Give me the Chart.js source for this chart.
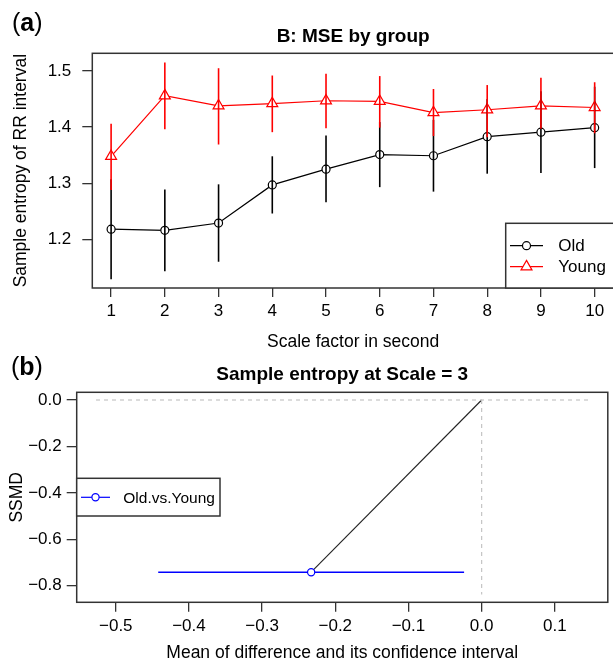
<!DOCTYPE html>
<html>
<head>
<meta charset="utf-8">
<script src="https://cdn.jsdelivr.net/npm/chart.js@4.4.1/dist/chart.umd.min.js"></script>
<style>
  html, body { margin: 0; padding: 0; background: #fff; overflow: hidden; }
  #wrap { position: relative; width: 613px; height: 663px; overflow: hidden; }
  #top { position: absolute; left: 0; top: 0; }
  #bottom { position: absolute; left: 0; top: 352px; }
</style>
</head>
<body>
<div id="wrap">
  <canvas id="top" width="640" height="352" style="width:640px;height:352px"></canvas>
  <canvas id="bottom" width="613" height="311" style="width:613px;height:311px"></canvas>
</div>
<script>
// ---- panel (a): MSE by group ----
const scaleFactors = [1, 2, 3, 4, 5, 6, 7, 8, 9, 10];
const oldMean  = [1.218, 1.216, 1.229, 1.297, 1.325, 1.351, 1.349, 1.383, 1.391, 1.399];
const oldLower = [1.129, 1.143, 1.160, 1.246, 1.266, 1.293, 1.285, 1.317, 1.318, 1.327];
const oldUpper = [1.307, 1.289, 1.298, 1.348, 1.385, 1.409, 1.413, 1.450, 1.464, 1.472];
const youngMean  = [1.348, 1.456, 1.438, 1.442, 1.447, 1.446, 1.426, 1.431, 1.438, 1.435];
const youngLower = [1.288, 1.396, 1.369, 1.391, 1.398, 1.399, 1.384, 1.382, 1.397, 1.389];
const youngUpper = [1.406, 1.515, 1.505, 1.492, 1.495, 1.491, 1.468, 1.475, 1.488, 1.480];
const topYTicks = [1.2, 1.3, 1.4, 1.5];

// ---- panel (b): sample entropy at scale 3 ----
const pairLabels = ["Old.vs.Young"];
const meanDiff = [-0.233];
const ciLower  = [-0.442];
const ciUpper  = [-0.024];
const ssmd     = [-0.742];
const bottomXTicks = [-0.5, -0.4, -0.3, -0.2, -0.1, 0, 0.1];
const bottomYTicks = [0, -0.2, -0.4, -0.6, -0.8];
const refLineX = [-0.527, 0.146];   // dashed line along SSMD = 0
const refLineY = [0, -0.838];       // dashed line along difference = 0

const FONT = "'Liberation Sans', Arial, Helvetica, sans-serif";
const FRAME = '#333';

function minusFmt(v) {
  const s = Math.abs(v).toFixed(1);
  return v < -1e-9 ? '\u2212' + s : s;
}

// error bars for panel (a), drawn through the chart's scales
const errorBars = {
  id: 'errorBars',
  afterDatasetsDraw(chart) {
    const { ctx, scales: { x, y } } = chart;
    const sets = [
      { lower: oldLower, upper: oldUpper, color: '#000' },
      { lower: youngLower, upper: youngUpper, color: '#ff0000' }
    ];
    ctx.save();
    sets.forEach(s => {
      ctx.strokeStyle = s.color;
      ctx.lineWidth = 1.6;
      s.lower.forEach((lo, i) => {
        const px = x.getPixelForValue(scaleFactors[i]);
        ctx.beginPath();
        ctx.moveTo(px, y.getPixelForValue(lo));
        ctx.lineTo(px, y.getPixelForValue(s.upper[i]));
        ctx.stroke();
      });
    });
    ctx.restore();
  }
};

// frame, titles and R-style legend box
function decor(draw) {
  return {
    id: 'decor',
    afterDraw(chart) {
      const ctx = chart.ctx;
      ctx.save();
      draw(ctx, chart.chartArea, chart);
      ctx.restore();
    }
  };
}

function panelLetter(ctx, letter, x, baseline) {
  ctx.fillStyle = '#000';
  ctx.textAlign = 'left';
  ctx.textBaseline = 'alphabetic';
  ctx.font = '25px ' + FONT;
  ctx.fillText('(', x, baseline);
  let cx = x + ctx.measureText('(').width;
  ctx.font = 'bold 25px ' + FONT;
  ctx.fillText(letter, cx, baseline);
  cx += ctx.measureText(letter).width;
  ctx.font = '25px ' + FONT;
  ctx.fillText(')', cx, baseline);
}

function yTitle(ctx, text, baselineX, centerY) {
  ctx.save();
  ctx.translate(baselineX, centerY);
  ctx.rotate(-Math.PI / 2);
  ctx.font = '17.5px ' + FONT;
  ctx.fillStyle = '#000';
  ctx.textAlign = 'center';
  ctx.textBaseline = 'alphabetic';
  ctx.fillText(text, 0, 0);
  ctx.restore();
}

function centerText(ctx, text, font, cx, baseline) {
  ctx.font = font;
  ctx.fillStyle = '#000';
  ctx.textAlign = 'center';
  ctx.textBaseline = 'alphabetic';
  ctx.fillText(text, cx, baseline);
}

function legendEntry(ctx, ds, x0, x1, y, textX, fontSize) {
  ctx.strokeStyle = ds.borderColor;
  ctx.lineWidth = 1.2;
  ctx.beginPath();
  ctx.moveTo(x0, y);
  ctx.lineTo(x1, y);
  ctx.stroke();
  ctx.fillStyle = '#fff';
  ctx.strokeStyle = ds.borderColor;
  ctx.lineWidth = ds.pointBorderWidth;
  Chart.helpers.drawPoint(ctx, { pointStyle: ds.pointStyle, radius: ds.pointRadius, borderWidth: ds.pointBorderWidth, rotation: 0 }, (x0 + x1) / 2, y);
  ctx.fillStyle = '#000';
  ctx.font = fontSize + 'px ' + FONT;
  ctx.textAlign = 'left';
  ctx.textBaseline = 'middle';
  ctx.fillText(ds.label, textX, y + 1);
}

function axisStyle(tickLength, pad) {
  return {
    grid: { display: true, drawOnChartArea: false, drawTicks: true, tickLength: tickLength, color: FRAME, lineWidth: 1.3 },
    border: { display: false },
    ticks: { color: '#000', font: { family: FONT, size: 17 }, padding: pad, autoSkip: false, maxRotation: 0 }
  };
}

// ---------- top chart ----------
const topX = axisStyle(9, 4);
const topY = axisStyle(10, 11);
new Chart(document.getElementById('top'), {
  type: 'line',
  data: {
    datasets: [
      {
        label: 'Old', order: 1,
        data: scaleFactors.map((s, i) => ({ x: s, y: oldMean[i] })),
        borderColor: '#000', borderWidth: 1.2,
        pointStyle: 'circle', pointRadius: 4, pointBorderWidth: 1.2,
        pointBorderColor: '#000', pointBackgroundColor: '#fff'
      },
      {
        label: 'Young', order: 0,
        data: scaleFactors.map((s, i) => ({ x: s, y: youngMean[i] })),
        borderColor: '#ff0000', borderWidth: 1.2,
        pointStyle: 'triangle', pointRadius: 6.3, pointBorderWidth: 1.2,
        pointBorderColor: '#ff0000', pointBackgroundColor: '#fff'
      }
    ]
  },
  options: {
    responsive: false, animation: false, events: [],
    layout: { padding: { left: 0, top: 53.3, right: 26, bottom: 0 } },
    plugins: { legend: { display: false }, tooltip: { enabled: false } },
    scales: {
      x: Object.assign({}, topX, {
        type: 'linear', min: 0.65, max: 10.36,
        afterBuildTicks: s => { s.ticks = scaleFactors.map(v => ({ value: v })); },
        afterFit: s => { s.height = 352 - 288; },
        ticks: Object.assign({}, topX.ticks, { callback: v => String(v) })
      }),
      y: Object.assign({}, topY, {
        min: 1.1132, max: 1.5316,
        afterBuildTicks: s => { s.ticks = topYTicks.map(v => ({ value: v })); },
        afterFit: s => { s.width = 92.3; },
        ticks: Object.assign({}, topY.ticks, { callback: v => v.toFixed(1) })
      })
    }
  },
  plugins: [errorBars, decor((ctx, a, chart) => {
    ctx.strokeStyle = FRAME;
    ctx.lineWidth = 1.5;
    ctx.strokeRect(a.left, a.top, a.right - a.left, a.bottom - a.top);
    panelLetter(ctx, 'a', 12, 31);
    centerText(ctx, 'B: MSE by group', 'bold 19px ' + FONT, (a.left + a.right) / 2, 41.7);
    centerText(ctx, 'Scale factor in second', '17.5px ' + FONT, (a.left + a.right) / 2, 346.5);
    yTitle(ctx, 'Sample entropy of RR interval', 26, (a.top + a.bottom) / 2);
    // legend box (right part is cut off by the page edge)
    ctx.fillStyle = '#fff';
    ctx.fillRect(505.7, 223.3, 140, a.bottom - 223.3);
    ctx.strokeStyle = FRAME;
    ctx.lineWidth = 1.5;
    ctx.strokeRect(505.7, 223.3, 140, a.bottom - 223.3);
    const ds = chart.data.datasets;
    legendEntry(ctx, ds[0], 510, 543, 245.7, 558.3, 17);
    legendEntry(ctx, ds[1], 510, 543, 266.7, 558.3, 17);
  })]
});

// ---------- bottom chart ----------
const botX = axisStyle(9.5, 4);
const botY = axisStyle(10, 5);
new Chart(document.getElementById('bottom'), {
  type: 'line',
  data: {
    datasets: [
      {
        label: 'zero SSMD',
        data: refLineX.map(v => ({ x: v, y: 0 })),
        borderColor: '#c4c4c4', borderWidth: 1.2, borderDash: [4, 4], pointRadius: 0
      },
      {
        label: 'zero difference',
        data: refLineY.map(v => ({ x: 0, y: v })),
        borderColor: '#c4c4c4', borderWidth: 1.2, borderDash: [4, 4], pointRadius: 0
      },
      {
        label: 'origin link',
        data: [{ x: 0, y: 0 }, { x: meanDiff[0], y: ssmd[0] }],
        borderColor: '#222', borderWidth: 1.1, pointRadius: 0
      },
      {
        label: pairLabels[0],
        data: pairLabels.map((p, i) => ({ x: meanDiff[i], y: ssmd[i] })),
        borderColor: '#0000ff', borderWidth: 1.3, showLine: false,
        pointStyle: 'circle', pointRadius: 3.6, pointBorderWidth: 1.2,
        pointBorderColor: '#0000ff', pointBackgroundColor: '#fff', order: -1
      },
      {
        label: 'confidence interval',
        data: [{ x: ciLower[0], y: ssmd[0] }, { x: ciUpper[0], y: ssmd[0] }],
        borderColor: '#0000ff', borderWidth: 1.5, pointRadius: 0
      }
    ]
  },
  options: {
    responsive: false, animation: false, events: [],
    layout: { padding: { left: 0, top: 40.3, right: 2, bottom: 0 } },
    plugins: { legend: { display: false }, tooltip: { enabled: false } },
    scales: {
      x: Object.assign({}, botX, {
        type: 'linear', min: -0.5534, max: 0.1724,
        afterBuildTicks: s => { s.ticks = bottomXTicks.map(v => ({ value: v })); },
        afterFit: s => { s.height = 311 - 250.3; },
        ticks: Object.assign({}, botX.ticks, { callback: v => minusFmt(v) })
      }),
      y: Object.assign({}, botY, {
        min: -0.8716, max: 0.0332,
        afterBuildTicks: s => { s.ticks = bottomYTicks.map(v => ({ value: v })); },
        afterFit: s => { s.width = 76.7; },
        ticks: Object.assign({}, botY.ticks, { callback: v => minusFmt(v) })
      })
    }
  },
  plugins: [decor((ctx, a, chart) => {
    ctx.strokeStyle = FRAME;
    ctx.lineWidth = 1.5;
    ctx.strokeRect(a.left, a.top, a.right - a.left, a.bottom - a.top);
    panelLetter(ctx, 'b', 11, 23);
    centerText(ctx, 'Sample entropy at Scale = 3', 'bold 19px ' + FONT, (a.left + a.right) / 2, 27.5);
    centerText(ctx, 'Mean of difference and its confidence interval', '17.5px ' + FONT, (a.left + a.right) / 2, 306.3);
    yTitle(ctx, 'SSMD', 21.5, (a.top + a.bottom) / 2);
    // legend box
    ctx.fillStyle = '#fff';
    ctx.fillRect(a.left, 126.3, 143.3, 37.7);
    ctx.strokeStyle = FRAME;
    ctx.lineWidth = 1.5;
    ctx.strokeRect(a.left, 126.3, 143.3, 37.7);
    legendEntry(ctx, chart.data.datasets[3], 81, 110, 145.3, 123.3, 15.5);
  })]
});
</script>
</body>
</html>
